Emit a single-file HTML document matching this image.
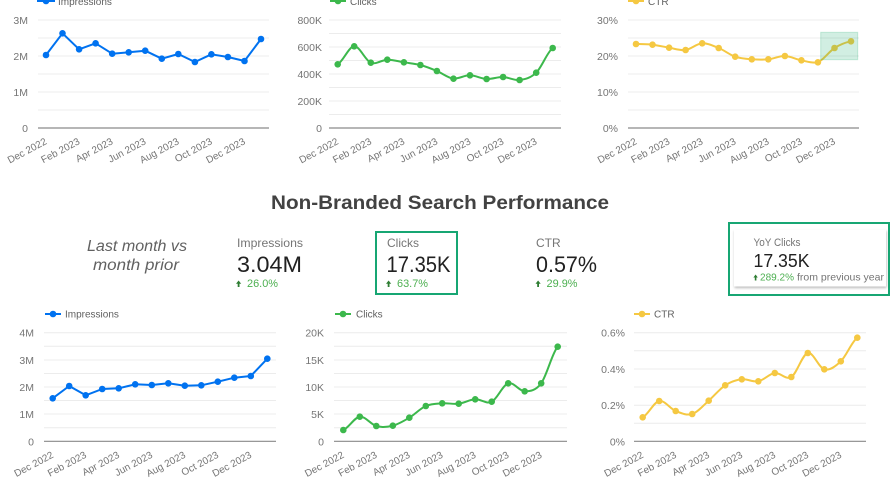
<!DOCTYPE html>
<html><head><meta charset="utf-8"><style>
html,body{margin:0;padding:0;background:#fff;}
svg{display:block;font-family:"Liberation Sans",sans-serif;}
.g{stroke:#ececec;stroke-width:1;}
.b{stroke:#8a8a8a;stroke-width:1.2;}
.yl{font-size:10.5px;fill:#757575;text-anchor:end;}
.xl{font-size:10px;fill:#757575;text-anchor:end;}
.lg{font-size:10px;fill:#616161;}
</style></head><body>
<svg width="892" height="483" viewBox="0 0 892 483" xmlns="http://www.w3.org/2000/svg">
<defs><filter id="sh" x="-10%" y="-10%" width="130%" height="140%"><feDropShadow dx="0.5" dy="1.5" stdDeviation="1.2" flood-color="#000" flood-opacity="0.28"/></filter></defs>

<!-- ===== Top chart 1: Impressions ===== -->
<g>
<line class="g" x1="38" x2="269" y1="20" y2="20"/><line class="g" x1="38" x2="269" y1="38" y2="38"/>
<line class="g" x1="38" x2="269" y1="56" y2="56"/><line class="g" x1="38" x2="269" y1="74" y2="74"/>
<line class="g" x1="38" x2="269" y1="92" y2="92"/><line class="g" x1="38" x2="269" y1="110" y2="110"/>
<line class="b" x1="38" x2="269" y1="128" y2="128"/>
<text class="yl" x="28" y="24">3M</text><text class="yl" x="28" y="60">2M</text><text class="yl" x="28" y="96">1M</text><text class="yl" x="28" y="132">0</text>
<line x1="37" x2="55" y1="1" y2="1" stroke="#0072f0" stroke-width="2"/><circle cx="46" cy="1" r="3.3" fill="#0072f0"/>
<text class="lg" x="58" y="5">Impressions</text>
<polyline fill="none" stroke="#0072f0" stroke-width="2" stroke-linejoin="round" points="46,55 62.5,33.3 79.1,49.3 95.6,43.3 112.2,53.7 128.7,52.3 145.2,50.7 161.8,58.7 178.3,54 194.9,62 211.4,54.3 227.9,57 244.5,61 261,39"/>
<g fill="#0072f0"><circle cx="46" cy="55" r="3.3"/><circle cx="62.5" cy="33.3" r="3.3"/><circle cx="79.1" cy="49.3" r="3.3"/><circle cx="95.6" cy="43.3" r="3.3"/><circle cx="112.2" cy="53.7" r="3.3"/><circle cx="128.7" cy="52.3" r="3.3"/><circle cx="145.2" cy="50.7" r="3.3"/><circle cx="161.8" cy="58.7" r="3.3"/><circle cx="178.3" cy="54" r="3.3"/><circle cx="194.9" cy="62" r="3.3"/><circle cx="211.4" cy="54.3" r="3.3"/><circle cx="227.9" cy="57" r="3.3"/><circle cx="244.5" cy="61" r="3.3"/><circle cx="261" cy="39" r="3.3"/></g>
<text class="xl" transform="translate(47.5,143.5) rotate(-28)">Dec 2022</text>
<text class="xl" transform="translate(80.6,143.5) rotate(-28)">Feb 2023</text>
<text class="xl" transform="translate(113.7,143.5) rotate(-28)">Apr 2023</text>
<text class="xl" transform="translate(146.7,143.5) rotate(-28)">Jun 2023</text>
<text class="xl" transform="translate(179.8,143.5) rotate(-28)">Aug 2023</text>
<text class="xl" transform="translate(212.9,143.5) rotate(-28)">Oct 2023</text>
<text class="xl" transform="translate(246,143.5) rotate(-28)">Dec 2023</text>
</g>

<!-- ===== Top chart 2: Clicks ===== -->
<g>
<line class="g" x1="329" x2="561" y1="20" y2="20"/><line class="g" x1="329" x2="561" y1="33.5" y2="33.5"/>
<line class="g" x1="329" x2="561" y1="47" y2="47"/><line class="g" x1="329" x2="561" y1="60.5" y2="60.5"/>
<line class="g" x1="329" x2="561" y1="74" y2="74"/><line class="g" x1="329" x2="561" y1="87.5" y2="87.5"/>
<line class="g" x1="329" x2="561" y1="101" y2="101"/><line class="g" x1="329" x2="561" y1="114.5" y2="114.5"/>
<line class="b" x1="329" x2="561" y1="128" y2="128"/>
<text class="yl" x="322" y="24">800K</text><text class="yl" x="322" y="51">600K</text><text class="yl" x="322" y="78">400K</text><text class="yl" x="322" y="105">200K</text><text class="yl" x="322" y="132">0</text>
<line x1="330" x2="346" y1="1" y2="1" stroke="#3cb84c" stroke-width="2"/><circle cx="338" cy="1" r="3.3" fill="#3cb84c"/>
<text class="lg" x="350" y="5">Clicks</text>
<path fill="none" stroke="#3cb84c" stroke-width="2" d="M337.7,64.3 C343.2,61.3 348.7,46.6 354.2,46.3 C359.7,46 365.3,60.5 370.8,62.7 C376.3,64.9 381.8,59.8 387.3,59.7 C392.8,59.6 398.4,61.4 403.9,62.3 C409.4,63.2 414.9,63.6 420.4,65 C425.9,66.5 431.4,68.7 436.9,71 C442.4,73.3 448,78 453.5,78.7 C459,78.75 464.5,75.25 470,75.3 C475.5,75.35 481.1,78.7 486.6,79 C492.1,79.3 497.6,76.8 503.1,77 C508.6,77.2 514.1,80.7 519.6,80 C525.1,79.3 530.7,78 536.2,72.7 C541.7,67.4 547.2,52.1 552.7,48"/>
<g fill="#3cb84c"><circle cx="337.7" cy="64.3" r="3.3"/><circle cx="354.2" cy="46.3" r="3.3"/><circle cx="370.8" cy="62.7" r="3.3"/><circle cx="387.3" cy="59.7" r="3.3"/><circle cx="403.9" cy="62.3" r="3.3"/><circle cx="420.4" cy="65" r="3.3"/><circle cx="436.9" cy="71" r="3.3"/><circle cx="453.5" cy="78.7" r="3.3"/><circle cx="470" cy="75.3" r="3.3"/><circle cx="486.6" cy="79" r="3.3"/><circle cx="503.1" cy="77" r="3.3"/><circle cx="519.6" cy="80" r="3.3"/><circle cx="536.2" cy="72.7" r="3.3"/><circle cx="552.7" cy="48" r="3.3"/></g>
<text class="xl" transform="translate(339.2,143.5) rotate(-28)">Dec 2022</text>
<text class="xl" transform="translate(372.3,143.5) rotate(-28)">Feb 2023</text>
<text class="xl" transform="translate(405.4,143.5) rotate(-28)">Apr 2023</text>
<text class="xl" transform="translate(438.4,143.5) rotate(-28)">Jun 2023</text>
<text class="xl" transform="translate(471.5,143.5) rotate(-28)">Aug 2023</text>
<text class="xl" transform="translate(504.6,143.5) rotate(-28)">Oct 2023</text>
<text class="xl" transform="translate(537.7,143.5) rotate(-28)">Dec 2023</text>
</g>

<!-- ===== Top chart 3: CTR ===== -->
<g>
<line class="g" x1="628" x2="859" y1="20" y2="20"/><line class="g" x1="628" x2="859" y1="38" y2="38"/>
<line class="g" x1="628" x2="859" y1="56" y2="56"/><line class="g" x1="628" x2="859" y1="74" y2="74"/>
<line class="g" x1="628" x2="859" y1="92" y2="92"/><line class="g" x1="628" x2="859" y1="110" y2="110"/>
<line class="b" x1="628" x2="859" y1="128" y2="128"/>
<text class="yl" x="618" y="24">30%</text><text class="yl" x="618" y="60">20%</text><text class="yl" x="618" y="96">10%</text><text class="yl" x="618" y="132">0%</text>
<line x1="628" x2="644" y1="1" y2="1" stroke="#f5c842" stroke-width="2"/><circle cx="636" cy="1" r="3.3" fill="#f5c842"/>
<text class="lg" x="648" y="5">CTR</text>
<path fill="none" stroke="#f5c842" stroke-width="2" d="M636,44 C641.5,44.1 647,44.1 652.5,44.7 C658,45.3 663.6,46.8 669.1,47.7 C674.6,48.6 680.1,50.7 685.6,50 C691.1,49.3 696.7,43.6 702.2,43.3 C707.7,43 713.2,45.8 718.7,48 C724.2,50.2 729.7,54.8 735.2,56.7 C740.7,58.6 746.3,58.9 751.8,59.3 C757.3,59.7 762.8,59.9 768.3,59.3 C773.8,58.8 779.4,55.8 784.9,56 C790.4,56.2 795.9,59.3 801.4,60.3 C806.9,61.4 812.4,63.5 817.9,62.3 C823.4,60.3 829,51.5 834.5,48 C840,44.5 845.5,42.4 851,41.3"/>
<g fill="#f5c842"><circle cx="636" cy="44" r="3.3"/><circle cx="652.5" cy="44.7" r="3.3"/><circle cx="669.1" cy="47.7" r="3.3"/><circle cx="685.6" cy="50" r="3.3"/><circle cx="702.2" cy="43.3" r="3.3"/><circle cx="718.7" cy="48" r="3.3"/><circle cx="735.2" cy="56.7" r="3.3"/><circle cx="751.8" cy="59.3" r="3.3"/><circle cx="768.3" cy="59.3" r="3.3"/><circle cx="784.9" cy="56" r="3.3"/><circle cx="801.4" cy="60.3" r="3.3"/><circle cx="817.9" cy="62.3" r="3.3"/><circle cx="834.5" cy="48" r="3.3"/><circle cx="851" cy="41.3" r="3.3"/></g>
<rect x="820.7" y="32.3" width="37" height="27.4" fill="rgba(24,168,110,0.2)" stroke="rgba(24,168,110,0.22)" stroke-width="1"/>
<text class="xl" transform="translate(637.5,143.5) rotate(-28)">Dec 2022</text>
<text class="xl" transform="translate(670.6,143.5) rotate(-28)">Feb 2023</text>
<text class="xl" transform="translate(703.7,143.5) rotate(-28)">Apr 2023</text>
<text class="xl" transform="translate(736.7,143.5) rotate(-28)">Jun 2023</text>
<text class="xl" transform="translate(769.8,143.5) rotate(-28)">Aug 2023</text>
<text class="xl" transform="translate(802.9,143.5) rotate(-28)">Oct 2023</text>
<text class="xl" transform="translate(836,143.5) rotate(-28)">Dec 2023</text>
</g>

<!-- ===== Middle KPI section ===== -->
<text x="440" y="209" text-anchor="middle" font-size="19" font-weight="bold" fill="#424242" textLength="338" lengthAdjust="spacingAndGlyphs">Non-Branded Search Performance</text>
<text x="137" y="251" text-anchor="middle" font-size="15.5" font-style="italic" fill="#616161" textLength="100" lengthAdjust="spacingAndGlyphs">Last month vs</text>
<text x="136" y="270" text-anchor="middle" font-size="15.5" font-style="italic" fill="#616161" textLength="86" lengthAdjust="spacingAndGlyphs">month prior</text>

<text x="237" y="247" font-size="12" fill="#757575" textLength="66" lengthAdjust="spacingAndGlyphs">Impressions</text>
<text x="237" y="272" font-size="22" fill="#212121" textLength="65" lengthAdjust="spacingAndGlyphs">3.04M</text>
<polygon points="238.6,280.5 241.2,283.8 239.5,283.8 239.5,287 237.7,287 237.7,283.8 236,283.8" fill="#2e7d32"/>
<text x="247" y="287" font-size="11" fill="#4caf50" textLength="31" lengthAdjust="spacingAndGlyphs">26.0%</text>

<rect x="376" y="232" width="81" height="62" fill="none" stroke="#17a673" stroke-width="2"/>
<text x="387" y="247" font-size="12" fill="#757575">Clicks</text>
<text x="386.5" y="272" font-size="22" fill="#212121" textLength="64" lengthAdjust="spacingAndGlyphs">17.35K</text>
<polygon points="388.6,280.5 391.2,283.8 389.5,283.8 389.5,287 387.7,287 387.7,283.8 386,283.8" fill="#2e7d32"/>
<text x="397" y="287" font-size="11" fill="#4caf50" textLength="31" lengthAdjust="spacingAndGlyphs">63.7%</text>

<text x="536" y="247" font-size="12" fill="#757575">CTR</text>
<text x="536" y="272" font-size="22" fill="#212121" textLength="61" lengthAdjust="spacingAndGlyphs">0.57%</text>
<polygon points="538.1,280.5 540.7,283.8 539,283.8 539,287 537.2,287 537.2,283.8 535.5,283.8" fill="#2e7d32"/>
<text x="546.5" y="287" font-size="11" fill="#4caf50" textLength="31" lengthAdjust="spacingAndGlyphs">29.9%</text>

<rect x="729" y="223" width="160" height="72" fill="none" stroke="#17a673" stroke-width="2"/>
<rect x="734" y="229.5" width="152" height="57" fill="#fff" filter="url(#sh)"/>
<text x="753.5" y="246" font-size="11" fill="#757575" textLength="47" lengthAdjust="spacingAndGlyphs">YoY Clicks</text>
<text x="753.5" y="267" font-size="18" fill="#212121" textLength="56" lengthAdjust="spacingAndGlyphs">17.35K</text>
<polygon points="755.6,274.5 757.8,277.5 756.4,277.5 756.4,280.5 754.8,280.5 754.8,277.5 753.4,277.5" fill="#2e7d32"/>
<text x="760" y="280.5" font-size="10.5" fill="#4caf50" textLength="34" lengthAdjust="spacingAndGlyphs">289.2%</text>
<text x="797" y="280.5" font-size="10.5" fill="#757575" textLength="87" lengthAdjust="spacingAndGlyphs">from previous year</text>

<!-- ===== Bottom chart 1: Impressions ===== -->
<g>
<line class="g" x1="44" x2="276" y1="332.7" y2="332.7"/><line class="g" x1="44" x2="276" y1="346.3" y2="346.3"/>
<line class="g" x1="44" x2="276" y1="360" y2="360"/><line class="g" x1="44" x2="276" y1="373.5" y2="373.5"/>
<line class="g" x1="44" x2="276" y1="387" y2="387"/><line class="g" x1="44" x2="276" y1="400.5" y2="400.5"/>
<line class="g" x1="44" x2="276" y1="414" y2="414"/><line class="g" x1="44" x2="276" y1="427.7" y2="427.7"/>
<line class="b" x1="44" x2="276" y1="441.3" y2="441.3"/>
<text class="yl" x="34" y="336.7">4M</text><text class="yl" x="34" y="364">3M</text><text class="yl" x="34" y="391">2M</text><text class="yl" x="34" y="418">1M</text><text class="yl" x="34" y="445.3">0</text>
<line x1="45" x2="61" y1="314" y2="314" stroke="#0072f0" stroke-width="2"/><circle cx="53" cy="314" r="3.3" fill="#0072f0"/>
<text class="lg" x="65" y="317.5">Impressions</text>
<polyline fill="none" stroke="#0072f0" stroke-width="2" stroke-linejoin="round" points="52.7,398.3 69.2,386 85.7,395.3 102.2,389 118.7,388.3 135.2,384.3 151.8,385 168.3,383.3 184.8,385.7 201.3,385.3 217.8,381.7 234.3,377.7 250.8,376 267.3,358.7"/>
<g fill="#0072f0"><circle cx="52.7" cy="398.3" r="3.3"/><circle cx="69.2" cy="386" r="3.3"/><circle cx="85.7" cy="395.3" r="3.3"/><circle cx="102.2" cy="389" r="3.3"/><circle cx="118.7" cy="388.3" r="3.3"/><circle cx="135.2" cy="384.3" r="3.3"/><circle cx="151.8" cy="385" r="3.3"/><circle cx="168.3" cy="383.3" r="3.3"/><circle cx="184.8" cy="385.7" r="3.3"/><circle cx="201.3" cy="385.3" r="3.3"/><circle cx="217.8" cy="381.7" r="3.3"/><circle cx="234.3" cy="377.7" r="3.3"/><circle cx="250.8" cy="376" r="3.3"/><circle cx="267.3" cy="358.7" r="3.3"/></g>
<text class="xl" transform="translate(54.2,457) rotate(-28)">Dec 2022</text>
<text class="xl" transform="translate(87.2,457) rotate(-28)">Feb 2023</text>
<text class="xl" transform="translate(120.2,457) rotate(-28)">Apr 2023</text>
<text class="xl" transform="translate(153.3,457) rotate(-28)">Jun 2023</text>
<text class="xl" transform="translate(186.3,457) rotate(-28)">Aug 2023</text>
<text class="xl" transform="translate(219.3,457) rotate(-28)">Oct 2023</text>
<text class="xl" transform="translate(252.3,457) rotate(-28)">Dec 2023</text>
</g>

<!-- ===== Bottom chart 2: Clicks ===== -->
<g>
<line class="g" x1="334" x2="567" y1="332.7" y2="332.7"/><line class="g" x1="334" x2="567" y1="346.3" y2="346.3"/>
<line class="g" x1="334" x2="567" y1="360" y2="360"/><line class="g" x1="334" x2="567" y1="373.5" y2="373.5"/>
<line class="g" x1="334" x2="567" y1="387" y2="387"/><line class="g" x1="334" x2="567" y1="400.5" y2="400.5"/>
<line class="g" x1="334" x2="567" y1="414" y2="414"/><line class="g" x1="334" x2="567" y1="427.7" y2="427.7"/>
<line class="b" x1="334" x2="567" y1="441.3" y2="441.3"/>
<text class="yl" x="324" y="336.7">20K</text><text class="yl" x="324" y="364">15K</text><text class="yl" x="324" y="391">10K</text><text class="yl" x="324" y="418">5K</text><text class="yl" x="324" y="445.3">0</text>
<line x1="335" x2="351" y1="314" y2="314" stroke="#3cb84c" stroke-width="2"/><circle cx="343" cy="314" r="3.3" fill="#3cb84c"/>
<text class="lg" x="356" y="317.5">Clicks</text>
<path fill="none" stroke="#3cb84c" stroke-width="2" d="M343.3,430 C348.8,427.8 354.3,417.4 359.8,416.7 C365.3,416 370.8,424.5 376.3,426 C381.8,427.5 387.3,427.1 392.8,425.7 C398.3,424.3 403.8,421 409.3,417.7 C414.8,414.4 420.3,408.4 425.8,406 C431.3,403.6 436.7,403.7 442.2,403.3 C447.7,402.9 453.2,404.4 458.7,403.7 C464.2,403 469.7,399.6 475.2,399.3 C480.7,399 486.2,404.4 491.7,401.7 C497.2,399 502.7,385 508.2,383.3 C513.7,381.6 519.2,391.3 524.7,391.3 C530.2,391.3 535.7,390.7 541.2,383.3 C546.7,375.9 552.2,352.8 557.7,346.7"/>
<g fill="#3cb84c"><circle cx="343.3" cy="430" r="3.3"/><circle cx="359.8" cy="416.7" r="3.3"/><circle cx="376.3" cy="426" r="3.3"/><circle cx="392.8" cy="425.7" r="3.3"/><circle cx="409.3" cy="417.7" r="3.3"/><circle cx="425.8" cy="406" r="3.3"/><circle cx="442.2" cy="403.3" r="3.3"/><circle cx="458.7" cy="403.7" r="3.3"/><circle cx="475.2" cy="399.3" r="3.3"/><circle cx="491.7" cy="401.7" r="3.3"/><circle cx="508.2" cy="383.3" r="3.3"/><circle cx="524.7" cy="391.3" r="3.3"/><circle cx="541.2" cy="383.3" r="3.3"/><circle cx="557.7" cy="346.7" r="3.3"/></g>
<text class="xl" transform="translate(344.8,457) rotate(-28)">Dec 2022</text>
<text class="xl" transform="translate(377.8,457) rotate(-28)">Feb 2023</text>
<text class="xl" transform="translate(410.8,457) rotate(-28)">Apr 2023</text>
<text class="xl" transform="translate(443.7,457) rotate(-28)">Jun 2023</text>
<text class="xl" transform="translate(476.7,457) rotate(-28)">Aug 2023</text>
<text class="xl" transform="translate(509.7,457) rotate(-28)">Oct 2023</text>
<text class="xl" transform="translate(542.7,457) rotate(-28)">Dec 2023</text>
</g>

<!-- ===== Bottom chart 3: CTR ===== -->
<g>
<line class="g" x1="634" x2="866" y1="332.7" y2="332.7"/><line class="g" x1="634" x2="866" y1="350.8" y2="350.8"/>
<line class="g" x1="634" x2="866" y1="369" y2="369"/><line class="g" x1="634" x2="866" y1="387" y2="387"/>
<line class="g" x1="634" x2="866" y1="405.2" y2="405.2"/><line class="g" x1="634" x2="866" y1="423.2" y2="423.2"/>
<line class="b" x1="634" x2="866" y1="441.3" y2="441.3"/>
<text class="yl" x="625" y="336.7">0.6%</text><text class="yl" x="625" y="373">0.4%</text><text class="yl" x="625" y="409.2">0.2%</text><text class="yl" x="625" y="445.3">0%</text>
<line x1="634" x2="650" y1="314" y2="314" stroke="#f5c842" stroke-width="2"/><circle cx="642" cy="314" r="3.3" fill="#f5c842"/>
<text class="lg" x="654" y="317.5">CTR</text>
<path fill="none" stroke="#f5c842" stroke-width="2" d="M642.7,417.3 C648.2,414.6 653.7,402.1 659.2,401 C664.7,400 670.2,408.8 675.7,411 C681.2,413.2 686.7,415.7 692.2,414 C697.7,412.3 703.2,405.5 708.7,400.7 C714.2,395.9 719.7,388.9 725.2,385.3 C730.7,381.7 736.3,380 741.8,379.3 C747.3,378.6 752.8,382.4 758.3,381.3 C763.8,380.3 769.3,373.7 774.8,373 C780.3,372.3 785.8,380.3 791.3,377 C796.8,373.7 802.3,354.3 807.8,353 C813.3,351.7 818.8,367.9 824.3,369.3 C829.8,370.7 835.3,366.6 840.8,361.3 C846.3,356 851.8,341.6 857.3,337.7"/>
<g fill="#f5c842"><circle cx="642.7" cy="417.3" r="3.3"/><circle cx="659.2" cy="401" r="3.3"/><circle cx="675.7" cy="411" r="3.3"/><circle cx="692.2" cy="414" r="3.3"/><circle cx="708.7" cy="400.7" r="3.3"/><circle cx="725.2" cy="385.3" r="3.3"/><circle cx="741.8" cy="379.3" r="3.3"/><circle cx="758.3" cy="381.3" r="3.3"/><circle cx="774.8" cy="373" r="3.3"/><circle cx="791.3" cy="377" r="3.3"/><circle cx="807.8" cy="353" r="3.3"/><circle cx="824.3" cy="369.3" r="3.3"/><circle cx="840.8" cy="361.3" r="3.3"/><circle cx="857.3" cy="337.7" r="3.3"/></g>
<text class="xl" transform="translate(644.2,457) rotate(-28)">Dec 2022</text>
<text class="xl" transform="translate(677.2,457) rotate(-28)">Feb 2023</text>
<text class="xl" transform="translate(710.2,457) rotate(-28)">Apr 2023</text>
<text class="xl" transform="translate(743.3,457) rotate(-28)">Jun 2023</text>
<text class="xl" transform="translate(776.3,457) rotate(-28)">Aug 2023</text>
<text class="xl" transform="translate(809.3,457) rotate(-28)">Oct 2023</text>
<text class="xl" transform="translate(842.3,457) rotate(-28)">Dec 2023</text>
</g>
</svg>
</body></html>
